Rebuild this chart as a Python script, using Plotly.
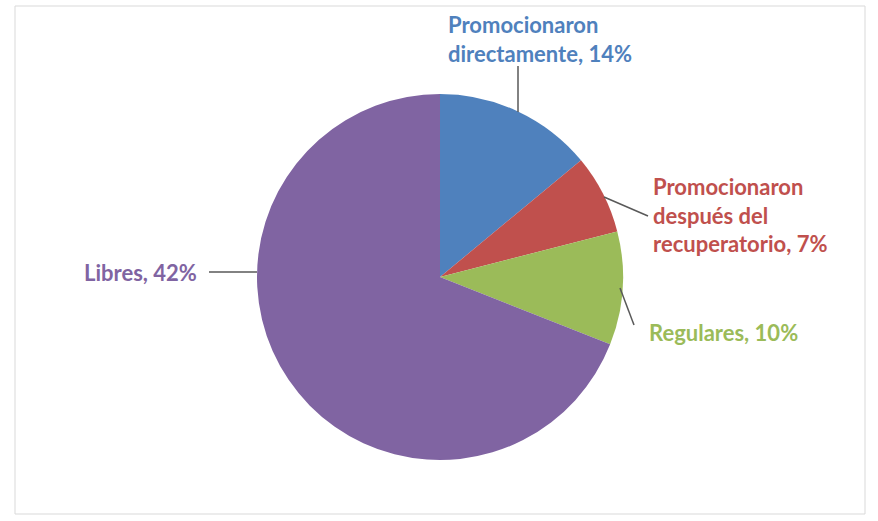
import plotly.graph_objects as go

W, H = 878, 521

categorias = ["Promocionaron directamente", "Promocionaron después del recuperatorio",
              "Regulares", "Libres"]
valores = [14, 7, 10, 69]
etiquetas = ["Promocionaron<br>directamente, 14%",
             "Promocionaron<br>después del<br>recuperatorio, 7%",
             "Regulares, 10%",
             "Libres, 42%"]
colores = ["#4F81BD", "#C0504D", "#9BBB59", "#8064A2"]


def px(x):
    return x / W


def py(y):
    return 1 - y / H


# posiciones de etiquetas (pixeles) y lineas guia
pos_texto = [(446, 9, "left"), (651, 171, "left"), (647, 317, "left"), (199, 257, "right")]
guias = [((518, 112), (518, 66)), ((604, 197), (648, 216)),
         ((620, 288), (634, 325)), ((257, 272), (209, 272))]

fig = go.Figure(go.Pie(
    labels=categorias, values=valores, sort=False, direction="clockwise",
    marker=dict(colors=colores, line=dict(width=0)),
    textinfo="none", hoverinfo="label+percent", showlegend=False,
    domain=dict(x=[px(440 - 183), px(440 + 183)], y=[py(277 + 183), py(277 - 183)]),
))

for (x, y, al), txt, col in zip(pos_texto, etiquetas, colores):
    fig.add_annotation(x=px(x), y=py(y), xref="paper", yref="paper", text=txt,
                       showarrow=False, xanchor=al, yanchor="top", align=al,
                       font=dict(family="Lato", size=22, color=col, weight="bold"))

shapes = [dict(type="rect", xref="paper", yref="paper", x0=px(15), x1=px(865),
               y0=py(514), y1=py(6), line=dict(color="#D9D9D9", width=1))]
for (a, b) in guias:
    shapes.append(dict(type="line", xref="paper", yref="paper", x0=px(a[0]), y0=py(a[1]),
                       x1=px(b[0]), y1=py(b[1]), line=dict(color="#595959", width=1.5)))

fig.update_layout(width=W, height=H, margin=dict(l=0, r=0, t=0, b=0),
                  paper_bgcolor="white", plot_bgcolor="white", shapes=shapes)
fig.write_html("out.html", config={"displayModeBar": False},
               post_script="document.body.style.margin='0';")
